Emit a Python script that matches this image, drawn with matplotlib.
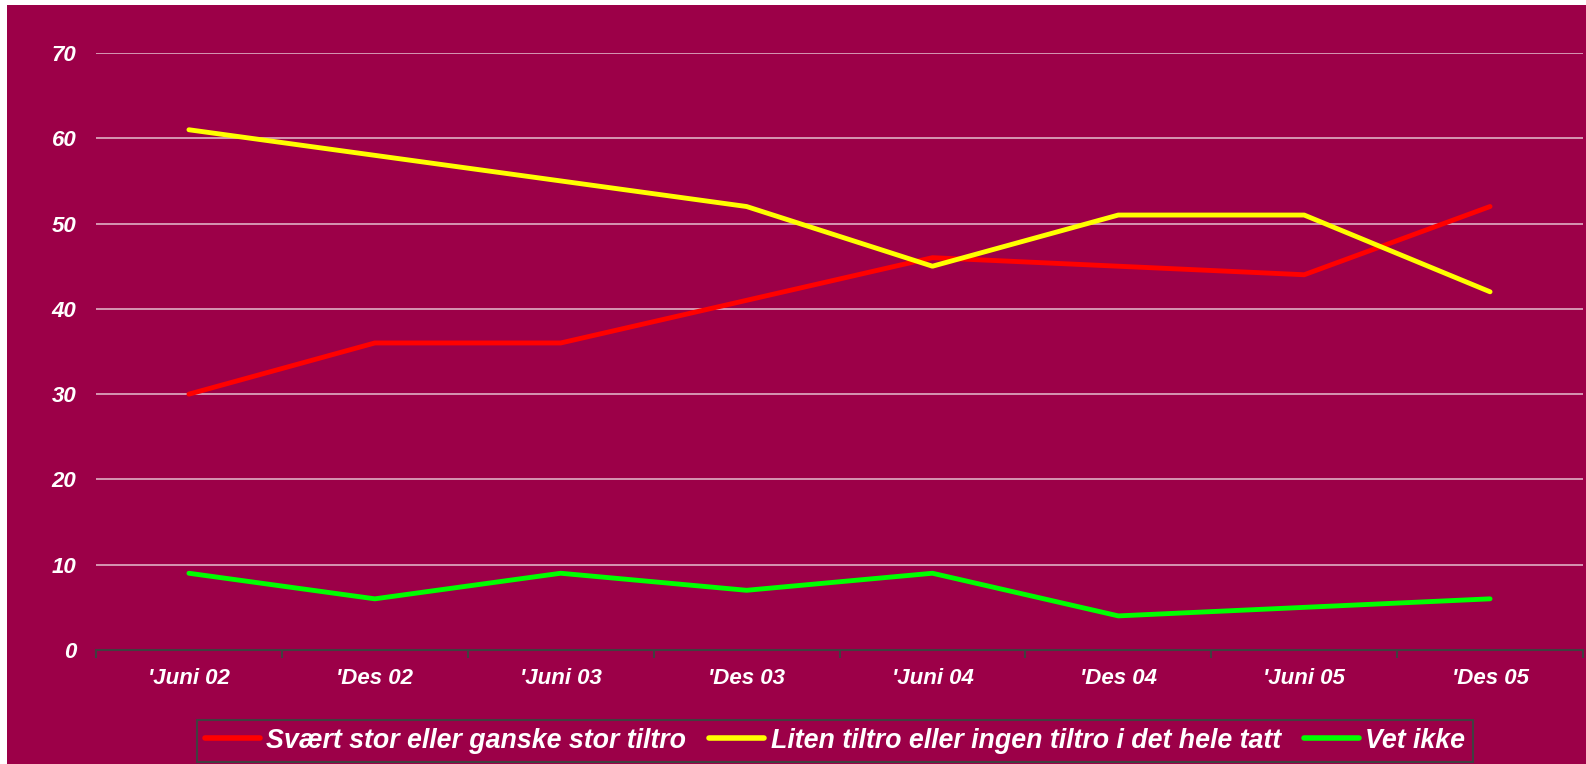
import matplotlib.pyplot as plt
from matplotlib.patches import Rectangle

# data
perioder = ["'Juni 02", "'Des 02", "'Juni 03", "'Des 03", "'Juni 04", "'Des 04", "'Juni 05", "'Des 05"]
stor_tiltro = [30, 36, 36, 41, 46, 45, 44, 52]
liten_tiltro = [61, 58, 55, 52, 45, 51, 51, 42]
vet_ikke = [9, 6, 9, 7, 9, 4, 5, 6]
serier = ['Svært stor eller ganske stor tiltro',
          'Liten tiltro eller ingen tiltro i det hele tatt',
          'Vet ikke']

bg = '#9C0048'
plt.rcParams['font.family'] = ['Liberation Sans', 'DejaVu Sans']

fig = plt.figure(figsize=(15.86, 7.64), dpi=100, facecolor='white')
fig.patches.append(Rectangle((7 / 1586, 0), 1, 1 - 5 / 764, transform=fig.transFigure,
                             facecolor=bg, edgecolor='none', zorder=-10))
ax = fig.add_axes([96 / 1586, 1 - 650 / 764, (1583 - 96) / 1586, (650 - 53) / 764])
ax.set_facecolor(bg)
ax.set_zorder(5)

x = list(range(len(perioder)))
ax.plot(x, stor_tiltro, color='#FF0000', lw=3.5, solid_capstyle='round', label=serier[0], zorder=3)
ax.plot(x, liten_tiltro, color='#FFFF00', lw=3.5, solid_capstyle='round', label=serier[1], zorder=3)
ax.plot(x, vet_ikke, color='#00FF00', lw=3.5, solid_capstyle='round', label=serier[2], zorder=3)

ax.set_xlim(-0.5, len(perioder) - 0.5)
ax.set_ylim(0, 70)
ax.set_yticks(range(0, 71, 10))
ax.set_yticklabels([str(v) for v in range(0, 71, 10)])
ax.set_xticks(x)
ax.set_xticklabels(perioder)
ax.set_xticks([i - 0.5 for i in range(len(perioder) + 1)], minor=True)

for v in range(10, 71, 10):
    ax.axhline(v, color='#E0B0C4', lw=1.2, zorder=1)

for s in ['top', 'right', 'left']:
    ax.spines[s].set_visible(False)
ax.spines['bottom'].set_color('#404040')
ax.spines['bottom'].set_linewidth(1.5)

ax.tick_params(axis='y', length=0, pad=14, labelcolor='white', labelsize=16)
ax.tick_params(axis='x', which='major', length=0, pad=13, labelcolor='white', labelsize=16)
ax.tick_params(axis='x', which='minor', length=6, width=1.5, color='#404040', direction='out')
for lab in ax.get_xticklabels() + ax.get_yticklabels():
    lab.set_fontweight('bold')
    lab.set_fontstyle('italic')

leg = ax.legend(loc='upper center', bbox_to_anchor=(0.497, -0.094), ncol=3, frameon=True,
                facecolor=bg, edgecolor='#404040', fancybox=False, framealpha=1,
                handlelength=2.05, handletextpad=0.25, columnspacing=0.85, borderpad=0.3,
                prop={'weight': 'bold', 'style': 'italic', 'size': 19.3})
leg.get_frame().set_linewidth(1.5)
for t in leg.get_texts():
    t.set_color('white')
for h in leg.get_lines():
    h.set_linewidth(4)

fig.savefig('out.png', dpi=100, facecolor=fig.get_facecolor())
